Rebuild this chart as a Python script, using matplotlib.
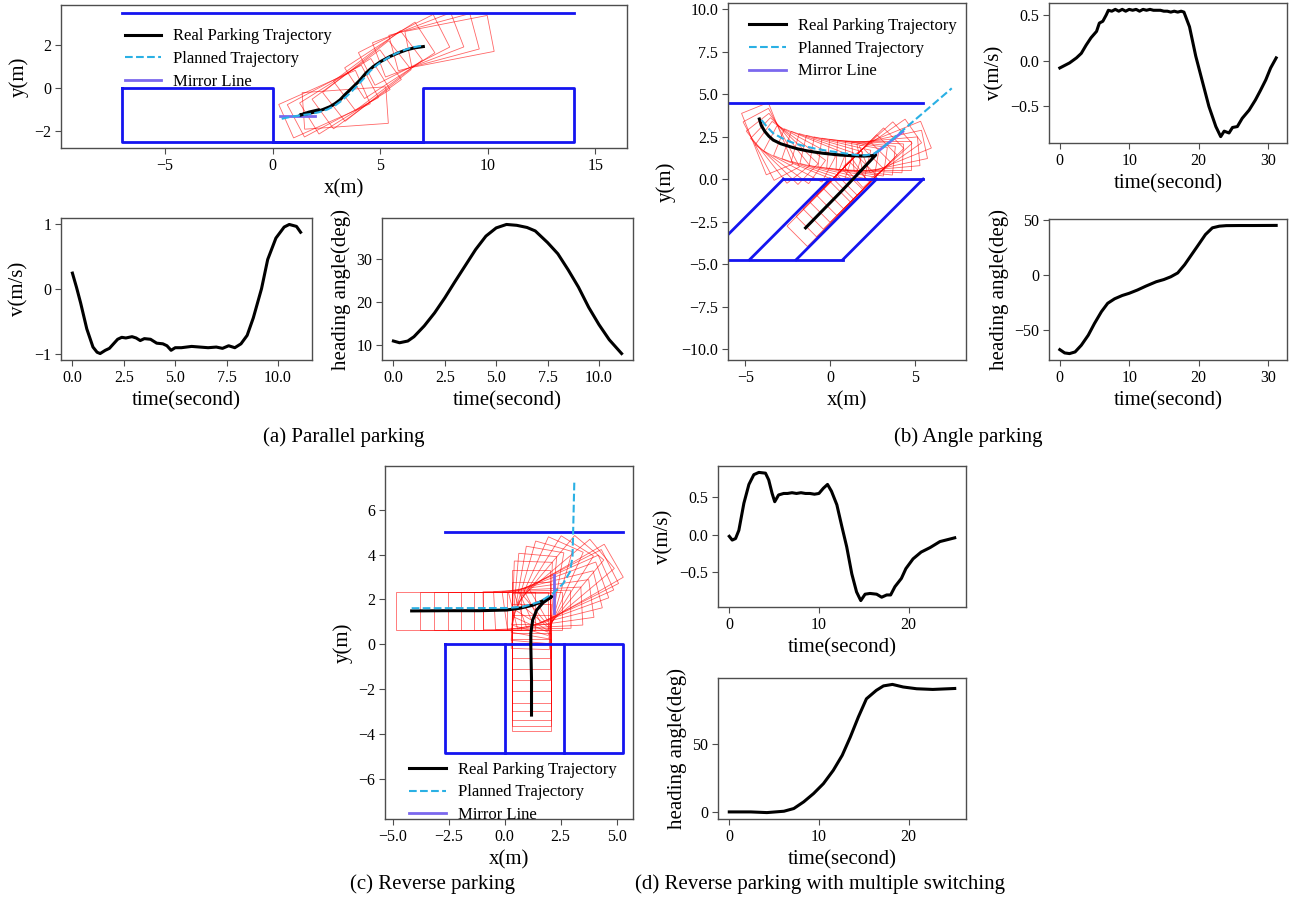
import numpy as np
import matplotlib
matplotlib.use('Agg')
import matplotlib.pyplot as plt
from matplotlib.patches import Rectangle
from matplotlib.ticker import MultipleLocator

plt.rcParams['font.family'] = ['Liberation Serif', 'DejaVu Serif']

# ---------------- (a) parallel parking ----------------
a_real_x = [7.01, 6.60, 6.24, 5.85, 5.46, 5.05, 4.68, 4.35, 4.07, 3.82, 3.60, 3.35, 3.13,
            2.90, 2.67, 2.35, 2.05, 1.65, 1.27, 1.70, 2.13]
a_real_y = [1.92, 1.86, 1.77, 1.63, 1.46, 1.24, 0.99, 0.70, 0.37, 0.12, -0.09, -0.33, -0.56,
            -0.73, -0.87, -1.00, -1.10, -1.19, -1.26, -1.12, -1.02]
a_plan_x = [6.90, 6.50, 6.10, 5.70, 5.30, 4.90, 4.55, 4.25, 3.95, 3.70, 3.45, 3.20, 2.90,
            2.55, 2.15, 1.70, 1.25, 0.80, 0.31]
a_plan_y = [1.95, 1.88, 1.75, 1.58, 1.36, 1.10, 0.80, 0.45, 0.12, -0.14, -0.38, -0.60, -0.82,
            -1.00, -1.13, -1.22, -1.28, -1.35, -1.46]
a_mirror_x = [0.35, 1.97]
a_mirror_y = [-1.29, -1.29]
a_curb_x = [-7, 14]
a_curb_y = [3.5, 3.5]
a_lot_x = [-7, 0, 0, 7, 7, 14, 14, -7, -7]
a_lot_y = [0, 0, -2.5, -2.5, 0, 0, -2.5, -2.5, 0]
a_pose_x = [7.0, 6.3, 5.6, 5.0, 4.4, 3.9, 3.4, 2.9, 2.3, 1.7, 1.27, 2.13]
a_pose_y = [1.92, 1.80, 1.55, 1.20, 0.60, 0.05, -0.45, -0.80, -1.05, -1.20, -1.26, -1.02]
a_pose_h = [11, 15, 21, 27, 33, 37, 38, 36, 32, 28, 24, 4]

va_t = [0.0, 0.2, 0.4, 0.7, 1.0, 1.2, 1.35, 1.6, 1.8, 2.0, 2.2, 2.4, 2.6, 2.9, 3.1, 3.3, 3.5,
        3.8, 4.1, 4.4, 4.6, 4.8, 5.0, 5.3, 5.8, 6.2, 6.6, 7.0, 7.3, 7.6, 7.9, 8.2, 8.5, 8.8,
        9.2, 9.5, 9.9, 10.3, 10.55, 10.9, 11.1]
va_v = [0.24, 0.02, -0.22, -0.62, -0.90, -0.98, -1.00, -0.95, -0.92, -0.85, -0.78, -0.75,
        -0.76, -0.74, -0.76, -0.80, -0.77, -0.78, -0.84, -0.85, -0.88, -0.95, -0.91, -0.91,
        -0.89, -0.90, -0.91, -0.90, -0.92, -0.88, -0.91, -0.85, -0.72, -0.45, 0.0, 0.45,
        0.78, 0.95, 0.99, 0.96, 0.87]
ha_t = [0.0, 0.3, 0.7, 1.0, 1.5, 2.0, 2.5, 3.0, 3.5, 4.0, 4.5, 5.0, 5.5, 6.0, 6.5, 6.9,
        7.5, 8.0, 8.5, 9.0, 9.5, 10.0, 10.5, 11.1]
ha_h = [11.0, 10.6, 11.0, 12.0, 14.5, 17.5, 21.0, 24.8, 28.5, 32.2, 35.3, 37.2, 38.0, 37.8,
        37.3, 36.5, 33.8, 31.2, 27.5, 23.5, 18.8, 14.8, 11.3, 8.1]

# ---------------- (b) angle parking ----------------
b_real_x = [-4.17, -4.05, -3.84, -3.60, -3.35, -2.90, -2.36, -1.90, -1.38, -0.90, -0.39, 0.10,
            0.59, 1.10, 1.57, 2.05, 2.45, 2.70, 1.67, 0.63, -0.40, -1.44]
b_real_y = [3.54, 3.15, 2.80, 2.52, 2.30, 2.08, 1.91, 1.78, 1.67, 1.59, 1.52, 1.47, 1.42,
            1.39, 1.37, 1.36, 1.38, 1.42, 0.33, -0.76, -1.81, -2.87]
b_plan_x = [-4.04, -3.70, -3.35, -2.85, -2.36, -1.87, -1.38, -0.89, -0.39, 0.10, 0.59, 1.08,
            1.57, 2.06, 2.56, 2.95, 4.00, 5.10, 6.20, 7.19]
b_plan_y = [3.48, 3.05, 2.70, 2.42, 2.20, 2.04, 1.91, 1.80, 1.71, 1.63, 1.56, 1.49, 1.42,
            1.40, 1.48, 1.71, 2.62, 3.56, 4.50, 5.35]
b_mirror_x = [2.60, 4.30]
b_mirror_y = [1.45, 2.80]
b_curb_x = [-7.5, 5.5]
b_curb_y = [4.5, 4.5]
b_front_x = [-2.75, 5.5]
b_back_x = [-7.5, 0.75]
b_front_y = 0.0
b_back_y = -4.75
b_div_top = [-2.75, 0.0, 2.75, 5.5]
b_div_bot = [-7.5, -4.75, -2.0, 0.75]
b_pose_x = [-4.17, -4.05, -3.84, -3.60, -3.35, -2.90, -2.36, -1.90, -1.38, -0.90, -0.39, 0.10,
            0.59, 1.10, 1.57, 2.05, 2.45, 2.70, 2.30, 1.90, 1.50, 1.10, 0.70, 0.30, -0.10,
            -0.50, -0.90, -1.44]
b_pose_y = [3.54, 3.15, 2.80, 2.52, 2.30, 2.08, 1.91, 1.78, 1.67, 1.59, 1.52, 1.47, 1.42,
            1.39, 1.37, 1.36, 1.38, 1.42, 1.00, 0.60, 0.15, -0.25, -0.65, -1.05, -1.45,
            -1.85, -2.30, -2.87]
b_pose_h = [-68, -62, -52, -44, -36, -28, -22, -19, -16, -13, -10, -8, -6, -3, 0, 5, 12, 22,
            35, 42, 45, 45, 45, 45, 45, 45, 45, 45]

vb_t = [0.0, 1.4, 2.4, 3.1, 3.8, 4.5, 5.3, 5.7, 6.2, 6.7,
        7.0, 7.5, 8.0, 8.5, 9.0, 9.5, 10.0, 10.5, 11.0, 11.5, 12.0,
        12.5, 13.0, 13.5, 14.0, 14.5, 15.0, 15.5, 16.0, 16.5, 17.0, 17.5,
        17.9, 18.7, 19.6, 20.6, 21.5, 22.5, 23.2, 23.7, 24.4, 24.9, 25.6,
        26.3, 27.3, 28.2, 28.9, 29.7, 30.4, 31.2]
vb_v = [-0.08, -0.025, 0.03, 0.08, 0.17, 0.25, 0.32, 0.41, 0.43, 0.50,
        0.55, 0.54, 0.56, 0.54, 0.56, 0.54, 0.56, 0.55, 0.56, 0.54, 0.56,
        0.55, 0.56, 0.55, 0.55, 0.55, 0.54, 0.54, 0.53, 0.54, 0.53, 0.54,
        0.53, 0.37, 0.05, -0.24, -0.50, -0.72, -0.83, -0.77, -0.79, -0.73, -0.72,
        -0.63, -0.54, -0.43, -0.33, -0.21, -0.08, 0.03]
hb_t = [0.0, 0.7, 1.4, 2.2, 3.1, 4.1, 5.0, 6.0, 6.9, 7.9, 9.0, 10.0, 11.2, 12.4, 13.9, 15.0,
        16.0, 17.0, 18.0, 19.0, 20.0, 21.0, 22.0, 23.0, 24.0, 26.0, 28.0, 31.2]
hb_h = [-67.7, -70.7, -71.3, -69.8, -63.7, -54.6, -43.9, -33.2, -25.6, -21.5, -18.5, -16.5,
        -13.5, -10.0, -6.0, -4.0, -1.5, 2.0, 9.5, 18.6, 27.7, 36.9, 43.0, 44.5, 45.0, 45.1,
        45.1, 45.2]

# ---------------- (c) reverse parking ----------------
c_real_x = [-4.15, -2.59, -1.10, 0.09, 0.68, 1.28, 1.72, 2.10, 1.72, 1.43, 1.25, 1.17, 1.17,
            1.20, 1.20]
c_real_y = [1.49, 1.50, 1.50, 1.53, 1.61, 1.75, 1.95, 2.13, 1.86, 1.53, 1.08, 0.49, -0.11,
            -1.59, -3.16]
c_plan_x = [-4.15, 0.09, 0.83, 1.58, 2.17, 2.62, 2.92, 3.03, 3.06, 3.11]
c_plan_y = [1.61, 1.62, 1.68, 1.90, 2.28, 2.72, 3.24, 3.91, 5.10, 7.26]
c_mirror_x = [2.20, 2.20]
c_mirror_y = [1.38, 3.10]
c_curb_x = [-2.65, 5.3]
c_curb_y = [5.0, 5.0]
c_lot_x = [-2.65, 5.3, 5.3, -2.65, -2.65]
c_lot_y = [0.0, 0.0, -4.85, -4.85, 0.0]
c_div_x = [0.0, 2.65]
c_pose_x = [-4.15, -3.10, -2.45, -1.85, -1.25, -0.65, -0.25, 0.25, 0.70, 1.05, 1.35, 1.60,
            1.85, 2.10, 1.90, 1.72, 1.55, 1.43, 1.32, 1.25, 1.20, 1.17, 1.17, 1.18, 1.19,
            1.20, 1.20, 1.20, 1.20, 1.20, 1.20]
c_pose_y = [1.49, 1.50, 1.50, 1.50, 1.50, 1.50, 1.51, 1.54, 1.60, 1.68, 1.78, 1.90, 2.02,
            2.13, 1.98, 1.86, 1.68, 1.53, 1.30, 1.08, 0.80, 0.49, 0.10, -0.40, -0.90, -1.40,
            -1.90, -2.30, -2.70, -2.95, -3.16]
c_pose_h = [0, 0, 0, 0, 0, 0, 1, 3, 8, 14, 20, 24, 27, 30, 40, 50, 58, 66, 74, 80, 85, 88,
            90, 90, 90, 90, 90, 90, 90, 90, 90]

# ---------------- (d) reverse parking, multiple switching ----------------
vd_t = [0.0, 0.33, 0.7, 1.07, 1.63, 2.19, 2.74, 3.3, 4.04, 4.4,
        4.78, 5.07, 5.5, 6.07, 6.5, 7.0, 7.5, 8.0, 8.5, 9.0,
        9.5, 10.0, 10.5, 10.96, 11.4, 12.0, 12.56, 13.1, 13.67, 14.2,
        14.67, 15.15, 15.7, 16.44, 17.0, 17.56, 18.0, 18.48, 19.2, 19.7,
        20.5, 21.4, 22.4, 23.5, 25.15]
vd_v = [-0.02, -0.07, -0.05, 0.06, 0.42, 0.67, 0.80, 0.83, 0.82, 0.73,
        0.55, 0.44, 0.53, 0.55, 0.55, 0.56, 0.55, 0.56, 0.55, 0.55,
        0.54, 0.55, 0.62, 0.67, 0.58, 0.40, 0.11, -0.16, -0.52, -0.76,
        -0.875, -0.79, -0.78, -0.79, -0.83, -0.80, -0.80, -0.69, -0.58, -0.45,
        -0.32, -0.23, -0.17, -0.09, -0.04]
hd_t = [0.0, 2.4, 4.2, 6.1, 7.2, 8.3, 9.4, 10.5, 11.6, 12.6, 13.5, 14.4, 15.3, 16.4, 17.2,
        18.2, 19.4, 20.9, 22.7, 25.15]
hd_h = [0.0, 0.0, -0.5, 0.5, 2.5, 7.4, 13.5, 20.8, 30.6, 41.7, 55.1, 69.9, 83.3, 89.5, 92.8,
        93.9, 92.0, 90.7, 90.2, 90.9]

# vehicle footprint, referenced at the rear axle
CAR_LEN = 3.9
CAR_WID = 1.7
AXLE_TO_CENTER = CAR_LEN / 2 - 0.7

BLUE = '#1414f0'
CYAN = '#2ab0e4'
MIRROR = '#7b68ee'

W, H = 1298, 905
fig = plt.figure(figsize=(W / 100, H / 100), dpi=100)


def panel(l, t, r, b):
    ax = fig.add_axes([l / W, 1 - b / H, (r - l) / W, (b - t) / H])
    for s in ax.spines.values():
        s.set_color('0.3')
        s.set_linewidth(1.0)
    ax.tick_params(direction='out', length=4, width=0.8, color='0.3', labelsize=11.5, pad=3)
    return ax


def draw_footprints(ax, xs, ys, hs):
    for x, y, h in zip(xs, ys, hs):
        a = np.deg2rad(h)
        cx = x + AXLE_TO_CENTER * np.cos(a)
        cy = y + AXLE_TO_CENTER * np.sin(a)
        ax.add_patch(Rectangle((cx - CAR_LEN / 2, cy - CAR_WID / 2), CAR_LEN, CAR_WID,
                               angle=h, rotation_point='center', fill=False,
                               edgecolor='red', linewidth=0.6, alpha=0.6, zorder=1))


def draw_paths(ax, rx, ry, px, py, mx, my):
    ax.plot(rx, ry, color='black', lw=2.2, zorder=4, label='Real Parking Trajectory')
    ax.plot(px, py, color=CYAN, lw=1.5, ls='--', zorder=5, label='Planned Trajectory')
    ax.plot(mx, my, color=MIRROR, lw=2, zorder=3, label='Mirror Line')


def legend(ax, anchor):
    ax.legend(loc='upper left', bbox_to_anchor=anchor, frameon=False, fontsize=12,
              handlelength=2.2, handletextpad=0.7, labelspacing=0.4, borderpad=0.3)


def series(ax, t, v, ylabel):
    ax.plot(t, v, color='black', lw=2.2)
    ax.set_xlabel('time(second)', fontsize=15)
    ax.set_ylabel(ylabel, fontsize=15)


# (a) top: trajectory
ax = panel(61, 5, 627, 148)
draw_footprints(ax, a_pose_x, a_pose_y, a_pose_h)
ax.plot(a_curb_x, a_curb_y, color=BLUE, lw=2, zorder=2)
ax.plot(a_lot_x, a_lot_y, color=BLUE, lw=2, zorder=2)
draw_paths(ax, a_real_x, a_real_y, a_plan_x, a_plan_y, a_mirror_x, a_mirror_y)
ax.set_xlim(-9.84, 16.48)
ax.set_ylim(-2.79, 3.85)
ax.xaxis.set_major_locator(MultipleLocator(5))
ax.yaxis.set_major_locator(MultipleLocator(2))
ax.set_xlabel('x(m)', fontsize=15)
ax.set_ylabel('y(m)', fontsize=15)
legend(ax, (0.089, 0.93))

ax = panel(61, 218, 312, 360)
series(ax, va_t, va_v, 'v(m/s)')
ax.xaxis.set_major_locator(MultipleLocator(2.5))
ax.yaxis.set_major_locator(MultipleLocator(1))

ax = panel(382, 218, 633, 360)
series(ax, ha_t, ha_h, 'heading angle(deg)')
ax.xaxis.set_major_locator(MultipleLocator(2.5))
ax.yaxis.set_major_locator(MultipleLocator(10))

# (b) angle parking
ax = panel(728, 3, 966, 360)
draw_footprints(ax, b_pose_x, b_pose_y, b_pose_h)
ax.plot(b_curb_x, b_curb_y, color=BLUE, lw=2, zorder=2)
ax.plot(b_front_x, [b_front_y, b_front_y], color=BLUE, lw=2, zorder=2)
ax.plot(b_back_x, [b_back_y, b_back_y], color=BLUE, lw=2, zorder=2)
for xt, xb in zip(b_div_top, b_div_bot):
    ax.plot([xt, xb], [b_front_y, b_back_y], color=BLUE, lw=2, zorder=2)
draw_paths(ax, b_real_x, b_real_y, b_plan_x, b_plan_y, b_mirror_x, b_mirror_y)
ax.set_xlim(-6.02, 8.03)
ax.set_ylim(-10.65, 10.37)
ax.xaxis.set_major_locator(MultipleLocator(5))
ax.yaxis.set_major_locator(MultipleLocator(2.5))
ax.set_xlabel('x(m)', fontsize=15)
ax.set_ylabel('y(m)', fontsize=15)
legend(ax, (0.033, 0.995))

ax = panel(1049, 3, 1287, 143)
series(ax, vb_t, vb_v, 'v(m/s)')
ax.xaxis.set_major_locator(MultipleLocator(10))
ax.yaxis.set_major_locator(MultipleLocator(0.5))

ax = panel(1049, 219, 1287, 360)
series(ax, hb_t, hb_h, 'heading angle(deg)')
ax.xaxis.set_major_locator(MultipleLocator(10))
ax.yaxis.set_major_locator(MultipleLocator(50))

# (c) reverse parking
ax = panel(385, 466, 633, 819)
draw_footprints(ax, c_pose_x, c_pose_y, c_pose_h)
ax.plot(c_curb_x, c_curb_y, color=BLUE, lw=2, zorder=2)
ax.plot(c_lot_x, c_lot_y, color=BLUE, lw=2, zorder=2)
for xd in c_div_x:
    ax.plot([xd, xd], [c_lot_y[0], c_lot_y[2]], color=BLUE, lw=2, zorder=2)
draw_paths(ax, c_real_x, c_real_y, c_plan_x, c_plan_y, c_mirror_x, c_mirror_y)
ax.set_xlim(-5.34, 5.73)
ax.set_ylim(-7.8, 7.96)
ax.xaxis.set_major_locator(MultipleLocator(2.5))
ax.yaxis.set_major_locator(MultipleLocator(2))
ax.set_xlabel('x(m)', fontsize=15)
ax.set_ylabel('y(m)', fontsize=15)
legend(ax, (0.044, 0.2))

# (d) reverse parking with multiple switching
ax = panel(718, 466, 966, 607)
series(ax, vd_t, vd_v, 'v(m/s)')
ax.xaxis.set_major_locator(MultipleLocator(10))
ax.yaxis.set_major_locator(MultipleLocator(0.5))

ax = panel(718, 678, 966, 819)
series(ax, hd_t, hd_h, 'heading angle(deg)')
ax.xaxis.set_major_locator(MultipleLocator(10))
ax.yaxis.set_major_locator(MultipleLocator(50))

# captions
for text, x, y in [('(a) Parallel parking', 344, 437), ('(b) Angle parking', 968, 437),
                   ('(c) Reverse parking', 432, 884),
                   ('(d) Reverse parking with multiple switching', 820, 884)]:
    fig.text(x / W, 1 - y / H, text, ha='center', va='center', fontsize=15)

fig.savefig('out.png', dpi=100)
